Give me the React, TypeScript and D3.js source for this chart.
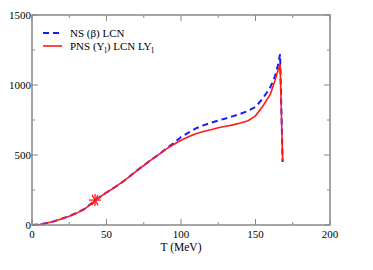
import React from 'react'
import * as d3 from 'd3'

// temperature grid (MeV)
const temps = [0, 5, 10, 15, 20, 25, 30, 35, 40, 45, 50, 55, 60, 65, 70, 75, 80, 85, 90, 95, 100, 105, 110, 115, 120, 125, 130, 135, 140, 145, 150, 155, 160, 163, 165, 166.5, 168.2]

// NS (beta) LCN — blue dashed
const nsValues = [0, 4, 14, 27, 45, 64, 86, 114, 155, 196, 232, 266, 302, 342, 386, 426, 466, 503, 545, 585, 628, 660, 690, 712, 730, 746, 761, 778, 795, 815, 843, 905, 985, 1060, 1140, 1220, 450]

// PNS (Y_l) LCN LY_l — red solid
const pnsValues = [0, 4, 14, 27, 44, 63, 85, 112, 152, 195, 232, 265, 302, 342, 385, 425, 465, 502, 542, 575, 605, 630, 652, 668, 681, 694, 705, 715, 728, 745, 780, 850, 935, 1030, 1100, 1150, 460]

const starPoint = { t: 42.3, v: 178 }

const xTicks = [0, 50, 100, 150, 200]
const xMinor = [25, 75, 125, 175]
const yTicks = [0, 500, 1000, 1500]
const yMinor = [250, 750, 1250]

export default function App() {
  const width = 373
  const height = 270
  const margin = { top: 15, right: 43, bottom: 45, left: 32 }
  const x = d3.scaleLinear().domain([0, 200]).range([margin.left, width - margin.right])
  const y = d3.scaleLinear().domain([0, 1500]).range([height - margin.bottom, margin.top])

  const line = d3.line<[number, number]>().x((d) => x(d[0])).y((d) => y(d[1]))
  const nsPath = line(temps.map((t, i) => [t, nsValues[i]]) as [number, number][]) || ''
  const pnsPath = line(temps.map((t, i) => [t, pnsValues[i]]) as [number, number][]) || ''

  const axisColor = '#888'
  const font = "'Times New Roman', Tinos, 'Liberation Serif', 'Noto Serif', 'DejaVu Serif', Times, serif"
  const x0 = x(0), x1 = x(200), y0 = y(0), y1 = y(1500)
  const sx = x(starPoint.t), sy = y(starPoint.v)
  const r = 6

  return (
    <svg width={width} height={height} style={{ position: 'absolute', left: 0, top: 0 }}>
      <rect width={width} height={height} fill="#fff" />
      <path d={nsPath} fill="none" stroke="#1a1aff" strokeWidth={2} strokeDasharray="6,4" />
      <path d={pnsPath} fill="none" stroke="#ff1a1a" strokeWidth={1.6} />
      {/* asterisk marker */}
      <g stroke="#ff1a1a" strokeWidth={1.3}>
        {[0, 60, 120].map((a) => (
          <line key={a}
            x1={sx - r * Math.cos((a * Math.PI) / 180)} y1={sy - r * Math.sin((a * Math.PI) / 180)}
            x2={sx + r * Math.cos((a * Math.PI) / 180)} y2={sy + r * Math.sin((a * Math.PI) / 180)} />
        ))}
        <line x1={sx} y1={sy - r} x2={sx} y2={sy + r} />
      </g>
      {/* frame */}
      <rect x={x0} y={y1} width={x1 - x0} height={y0 - y1} fill="none" stroke={axisColor} strokeWidth={1.5} />
      <g stroke={axisColor} strokeWidth={1}>
        {xTicks.map((t) => (
          <g key={'xt' + t}>
            <line x1={x(t)} x2={x(t)} y1={y0} y2={y0 - 6} />
            <line x1={x(t)} x2={x(t)} y1={y1} y2={y1 + 6} />
          </g>
        ))}
        {xMinor.map((t) => (
          <g key={'xm' + t}>
            <line x1={x(t)} x2={x(t)} y1={y0} y2={y0 - 3} />
            <line x1={x(t)} x2={x(t)} y1={y1} y2={y1 + 3} />
          </g>
        ))}
        {yTicks.map((t) => (
          <g key={'yt' + t}>
            <line x1={x0} x2={x0 + 6} y1={y(t)} y2={y(t)} />
            <line x1={x1} x2={x1 - 6} y1={y(t)} y2={y(t)} />
          </g>
        ))}
        {yMinor.map((t) => (
          <g key={'ym' + t}>
            <line x1={x0} x2={x0 + 3} y1={y(t)} y2={y(t)} />
            <line x1={x1} x2={x1 - 3} y1={y(t)} y2={y(t)} />
          </g>
        ))}
      </g>
      <g style={{ fontFamily: font, fontSize: 11 }} fill="#000">
        {xTicks.map((t) => (
          <text key={'xl' + t} x={x(t)} y={y0 + 13} textAnchor="middle">{t}</text>
        ))}
        {yTicks.map((t) => (
          <text key={'yl' + t} x={x0 - 1} y={y(t) + 3.5} textAnchor="end">{t}</text>
        ))}
        <text x={x(100)} y={y0 + 26} textAnchor="middle" style={{ fontSize: 11.5 }}>T (MeV)</text>
      </g>
      {/* legend */}
      <g style={{ fontFamily: font, fontSize: 11 }} fill="#000">
        <line x1={43} x2={62} y1={33} y2={33} stroke="#1a1aff" strokeWidth={2} strokeDasharray="6,4" />
        <text x={70} y={37}>NS (β) LCN</text>
        <line x1={43} x2={62} y1={46} y2={46} stroke="#ff1a1a" strokeWidth={1.6} />
        <text x={70} y={50}>
          PNS (Y<tspan fontSize={8} dy={3}>l</tspan><tspan dy={-3}>) LCN LY</tspan><tspan fontSize={8} dy={3}>l</tspan>
        </text>
      </g>
    </svg>
  )
}
